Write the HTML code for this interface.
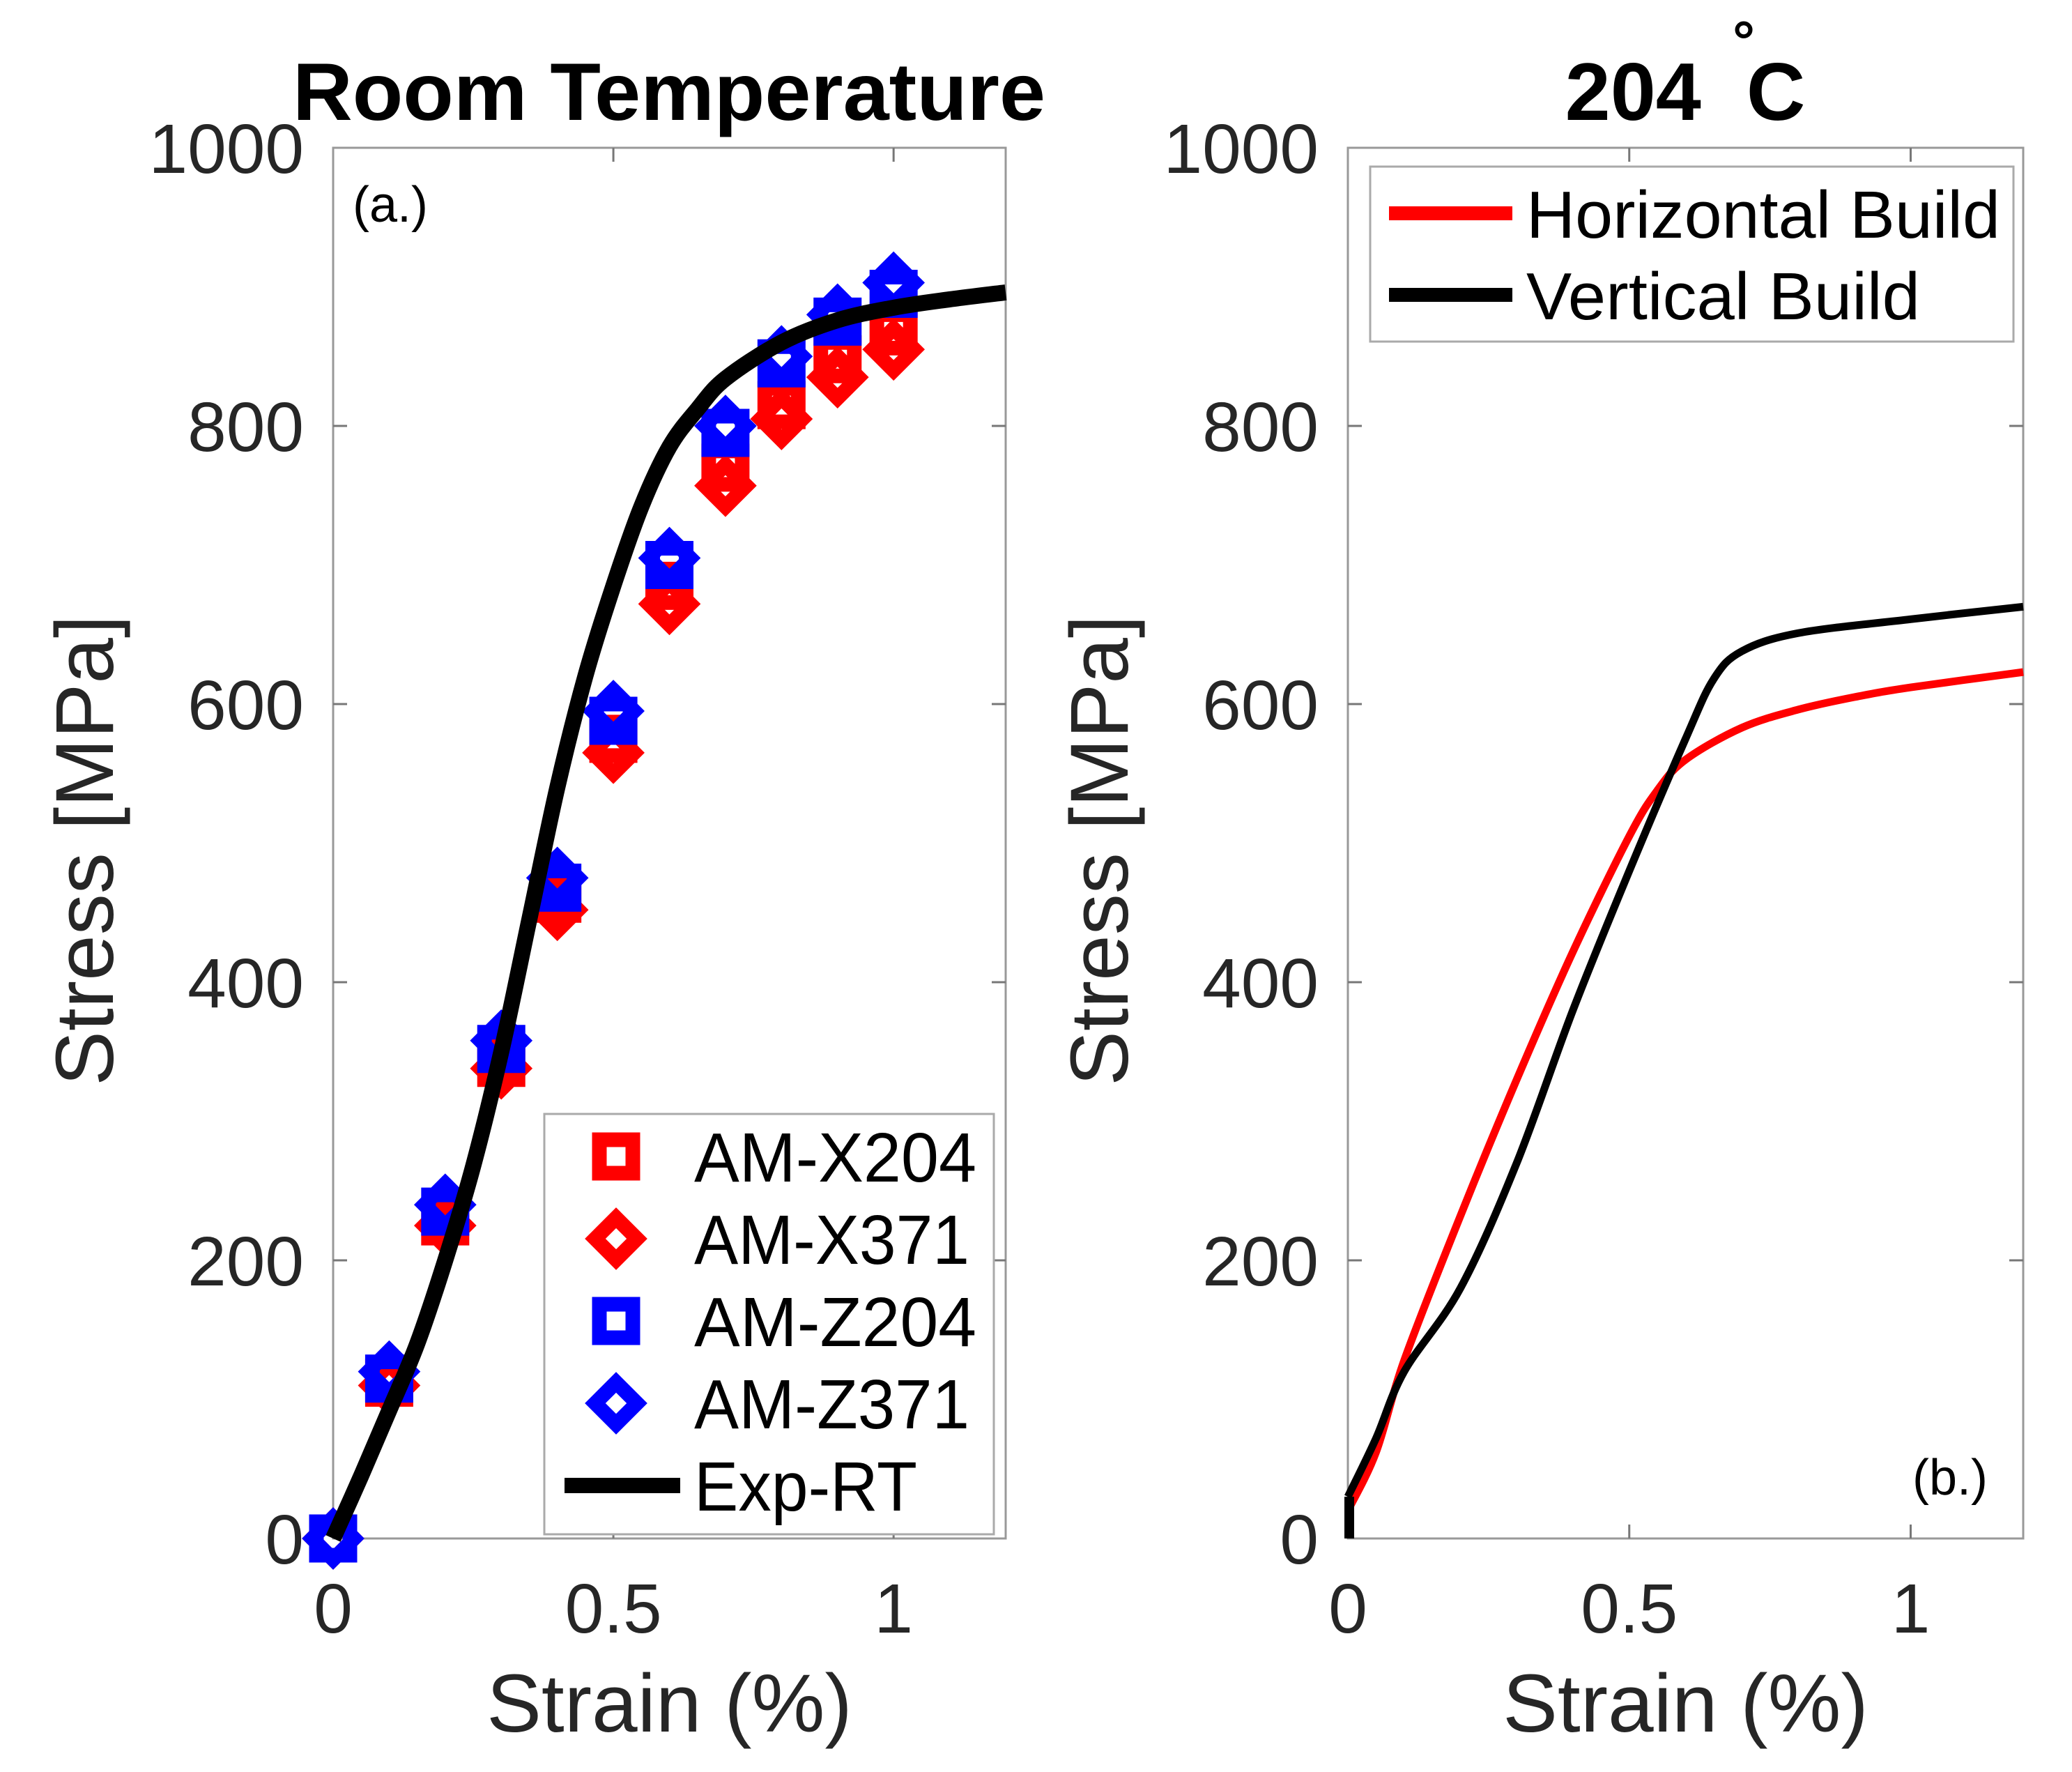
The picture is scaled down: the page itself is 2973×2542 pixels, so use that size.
<!DOCTYPE html>
<html><head><meta charset="utf-8"><style>
html,body{margin:0;padding:0;background:#fff;}
svg{display:block;font-family:"Liberation Sans",Arial,sans-serif;}
</style></head><body>
<svg id="fig" width="2973" height="2542" viewBox="0 0 2973 2542" xmlns="http://www.w3.org/2000/svg">
<rect width="2973" height="2542" fill="#fff"/>
<g id="L"></g>
<g id="R"></g>
</svg>
<script>
const strainPts = [0,0.1,0.2,0.3,0.4,0.5,0.6,0.7,0.8,0.9,1.0];
const amX204 = [0,112,228,342,460,575,685,770,815,848,868];
const amX371 = [0,110,225,338,452,565,672,757,805,835,855];
const amZ204 = [0,115,235,352,468,588,700,795,845,875,895];
const amZ371 = [0,120,240,358,475,595,705,800,850,880,903];
const expStrain = [0,0.05,0.1,0.15,0.2,0.25,0.3,0.35,0.4,0.45,0.5,0.55,0.6,0.65,0.7,0.8,0.9,1.0,1.1,1.2];
const expStress = [0,45,92,140,200,268,350,445,540,620,685,742,785,812,834,860,876,885,891,896];
const hStrain = [0,0.05,0.1,0.2,0.3,0.4,0.5,0.55,0.6,0.7,0.8,0.9,1.0,1.2];
const hStress = [20,62,128,232,330,422,505,538,560,583,596,605,612,623];
const vStrain = [0,0.05,0.1,0.2,0.3,0.4,0.5,0.6,0.65,0.7,0.8,1.0,1.2];
const vStress = [30,72,120,180,270,380,480,575,618,638,651,661,670];
const yTicks = [0,200,400,600,800,1000];
const xTicks = [0,0.5,1];
const xTickLabels = ["0","0.5","1"];

const NS="http://www.w3.org/2000/svg";
function mk(parent,tag,attrs,text){const e=document.createElementNS(NS,tag);for(const k in attrs)e.setAttribute(k,attrs[k]);if(text!==undefined)e.textContent=text;parent.appendChild(e);return e;}
function smooth(pts){
  let d=`M${pts[0][0]},${pts[0][1]}`;
  for(let i=0;i<pts.length-1;i++){
    const p0=pts[Math.max(0,i-1)],p1=pts[i],p2=pts[i+1],p3=pts[Math.min(pts.length-1,i+2)];
    const c1=[p1[0]+(p2[0]-p0[0])/6,p1[1]+(p2[1]-p0[1])/6];
    const c2=[p2[0]-(p3[0]-p1[0])/6,p2[1]-(p3[1]-p1[1])/6];
    d+=` C${c1[0]},${c1[1]} ${c2[0]},${c2[1]} ${p2[0]},${p2[1]}`;
  }
  return d;
}

function panel(g, x0, x1, yTop, yBot){
  const sx=v=>x0+(x1-x0)*v/1.2;
  const sy=v=>yBot-(yBot-yTop)*v/1000;
  const box=mk(g,'rect',{x:x0,y:yTop,width:x1-x0,height:yBot-yTop,fill:'none',stroke:'#999','stroke-width':3});
  
  
  xTicks.forEach((t,i)=>{
    if(t>0&&t<1.2){
      mk(g,'line',{x1:sx(t),x2:sx(t),y1:yBot,y2:yBot-20,stroke:'#777','stroke-width':3});
      mk(g,'line',{x1:sx(t),x2:sx(t),y1:yTop,y2:yTop+20,stroke:'#777','stroke-width':3});
    }
    const tl=mk(g,'text',{x:sx(t),y:yBot+135,'font-size':100,fill:'#262626','text-anchor':'middle'},xTickLabels[i]);
    
    
  });
  yTicks.forEach(t=>{
    if(t>0&&t<1000){
      mk(g,'line',{x1:x0,x2:x0+20,y1:sy(t),y2:sy(t),stroke:'#777','stroke-width':3});
      mk(g,'line',{x1:x1,x2:x1-20,y1:sy(t),y2:sy(t),stroke:'#777','stroke-width':3});
    }
    const tl=mk(g,'text',{x:x0-42,y:sy(t)+36,'font-size':100,fill:'#262626','text-anchor':'end'},String(t));
    
    
  });
  const xl=mk(g,'text',{x:(x0+x1)/2,y:2484,'font-size':118,fill:'#262626','text-anchor':'middle'},'Strain (%)');
  
  
  const ycx=x0-358, ycy=1220;
  const yl=mk(g,'text',{x:ycx,y:ycy+42,'font-size':118,fill:'#262626','text-anchor':'middle',transform:`rotate(-90 ${ycx} ${ycy})`},'Stress [MPa]');
  
  
  return {sx,sy};
}

function sqPath(cx,cy){return `M${cx-24},${cy-24}H${cx+24}V${cy+24}H${cx-24}Z`;}
function diPath(cx,cy){return `M${cx},${cy-30}L${cx+30},${cy}L${cx},${cy+30}L${cx-30},${cy}Z`;}

// Left panel
const L=document.getElementById('L');
const a=panel(L,478,1443,212,2207);
const t1=mk(L,'text',{x:960,y:172,'font-size':117,'font-weight':'bold',fill:'#000','text-anchor':'middle',textLength:1080,lengthAdjust:'spacingAndGlyphs'},'Room Temperature');


const la=mk(L,'text',{x:506,y:318,'font-size':72,fill:'#000'},'(a.)');


const series=[[amX204,'#f00',sqPath],[amX371,'#f00',diPath],[amZ204,'#00f',sqPath],[amZ371,'#00f',diPath]];
series.forEach(([vals,col,fn],si)=>{
  const sg=mk(L,'g',{});
  
  
  vals.forEach((v,i)=>{
    const p=mk(sg,'path',{d:fn(a.sx(strainPts[i]),a.sy(v)),fill:'none',stroke:col,'stroke-width':21});
    
    
  });
});
const expLine=mk(L,'path',{d:smooth(expStrain.map((s,i)=>[a.sx(s),a.sy(expStress[i])])),fill:'none',stroke:'#000','stroke-width':23,'stroke-linejoin':'round'});


// left legend
const lg=mk(L,'g',{});


mk(lg,'rect',{x:781,y:1598,width:645,height:603,fill:'#fff',stroke:'#aaa','stroke-width':3});
const lgNames=['AM-X204','AM-X371','AM-Z204','AM-Z371','Exp-RT'];
const lgCols=['#f00','#f00','#00f','#00f','#000'];
const lgLens=[405,395,405,395,320];
lgNames.forEach((n,i)=>{
  const cy=1659+i*118;
  const e=mk(lg,'g',{});
  
  
  if(i<4) mk(e,'path',{d:(i%2?diPath:sqPath)(884,cy),fill:'none',stroke:lgCols[i],'stroke-width':21});
  else mk(e,'line',{x1:810,x2:976,y1:cy,y2:cy,stroke:'#000','stroke-width':22});
  mk(e,'text',{x:996,y:cy+36,'font-size':100,fill:'#000',textLength:lgLens[i],lengthAdjust:'spacingAndGlyphs'},n);
});

// Right panel
const R=document.getElementById('R');
const b=panel(R,1934,2903,212,2207);
const t2=mk(R,'text',{x:2418,y:172,'font-size':117,'font-weight':'bold',fill:'#000','text-anchor':'middle'},'204 \u00a0C');


const deg=mk(R,'text',{x:2486,y:86,'font-size':80,'font-weight':'bold',fill:'#000'},'\u00b0');


const lb=mk(R,'text',{x:2744,y:2144,'font-size':72,fill:'#000'},'(b.)');


const hl=mk(R,'path',{d:smooth(hStrain.map((s,i)=>[b.sx(s),b.sy(hStress[i])])),fill:'none',stroke:'#f00','stroke-width':11,'stroke-linejoin':'round'});


const vl=mk(R,'path',{d:smooth(vStrain.map((s,i)=>[b.sx(s),b.sy(vStress[i])])),fill:'none',stroke:'#000','stroke-width':11,'stroke-linejoin':'round'});


mk(R,'line',{x1:1936,x2:1936,y1:b.sy(0),y2:b.sy(30),stroke:'#000','stroke-width':14});
const rg=mk(R,'g',{});


mk(rg,'rect',{x:1966,y:239,width:923,height:251,fill:'#fff',stroke:'#aaa','stroke-width':3});
[['Horizontal Build','#f00',306,680],['Vertical Build','#000',423,565]].forEach(([n,c,cy,len])=>{
  const e=mk(rg,'g',{});
  
  
  mk(e,'line',{x1:1993,x2:2170,y1:cy,y2:cy,stroke:c,'stroke-width':20});
  mk(e,'text',{x:2190,y:cy+35,'font-size':96,fill:'#000',textLength:len,lengthAdjust:'spacingAndGlyphs'},n);
});
</script>
</body></html>
